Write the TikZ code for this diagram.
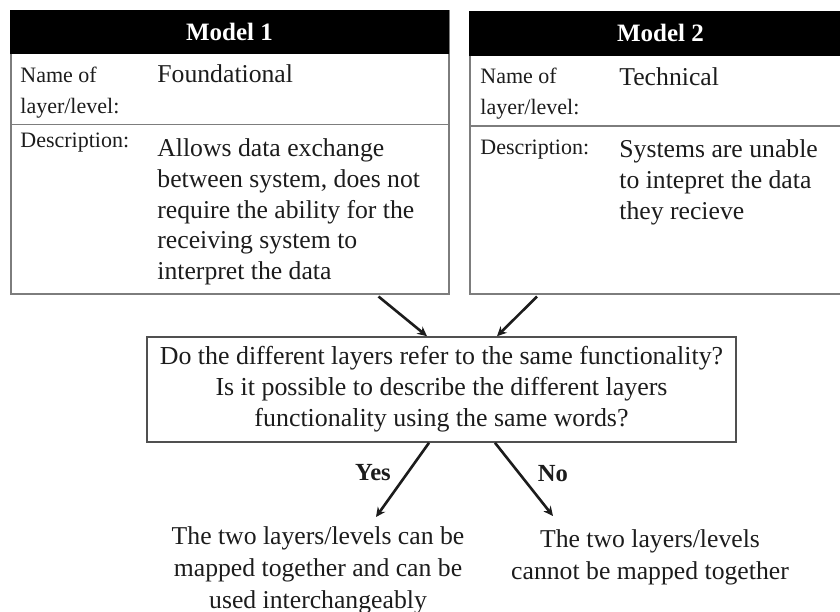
\documentclass[tikz,border=0pt]{standalone}
\usepackage{fontspec}
\setmainfont{Liberation Serif}
\usepackage{tikz}
\usetikzlibrary{arrows.meta,positioning,calc}
\definecolor{mdedge}{RGB}{125,125,125}
\definecolor{qedge}{RGB}{80,80,80}
\definecolor{mdink}{RGB}{28,28,28}
\definecolor{hdfill}{RGB}{0,0,0}
\tikzset{
  mbox/.style={
    draw=mdedge, line width=0.75pt, anchor=north west, inner sep=0pt
  },
  mhead/.style={
    fill=hdfill, draw=hdfill, anchor=north west, inner sep=0pt,
    text=white, font=\bfseries\fontsize{12.5pt}{15pt}\selectfont
  },
  mline/.style={draw=mdedge, line width=0.75pt},
  lbl/.style={
    anchor=north west, inner sep=0pt, align=left, text=mdink,
    font=\fontsize{11pt}{15.5pt}\selectfont
  },
  val/.style={
    anchor=north west, inner sep=0pt, align=left, text=mdink,
    font=\fontsize{12.85pt}{15.35pt}\selectfont
  },
  qbox/.style={
    draw=qedge, line width=0.8pt, align=center, inner sep=0pt, text=mdink,
    minimum width=294.5pt, minimum height=52.5pt,
    font=\fontsize{12.95pt}{15.5pt}\selectfont
  },
  ans/.style={inner sep=0pt, text=mdink, font=\bfseries\fontsize{12.3pt}{14pt}\selectfont},
  outc/.style={
    align=center, inner sep=0pt, text=mdink,
    font=\fontsize{12.85pt}{16pt}\selectfont
  },
  arr/.style={-{Stealth[length=4.8pt,width=4.6pt]}, draw=mdink, line width=1.3pt}
}
\begin{document}
\begin{tikzpicture}[x=0.5pt, y=-0.5pt]
  \useasboundingbox (0,0) rectangle (840,611);
  \clip (0,0) rectangle (840,611);
  % model 1
  \node[mbox, minimum width=219pt, minimum height=141.5pt] (m1) at (10,10) {};
  \node[mhead, minimum width=219pt, minimum height=21.5pt] (h1) at (10,10) {Model 1};
  \draw[mline] (10,124.5) -- (448,124.5);
  \node[lbl] (n1) at (20,67) {Name of\\layer/level:};
  \node[val] (v1) at (157,64.5) {Foundational};
  \node[lbl] (d1) at (20,133) {Description:};
  \node[val] (e1) at (157,138.5) {Allows data exchange\\between system, does not\\require the ability for the\\receiving system to\\interpret the data};
  % model 2
  \node[mbox, minimum width=191pt, minimum height=141pt] (m2) at (469,11) {};
  \node[mhead, minimum width=191pt, minimum height=22pt] (h2) at (469,11) {Model 2};
  \draw[mline] (469,126) -- (851,126);
  \node[lbl] (n2) at (480,68) {Name of\\layer/level:};
  \node[val] (v2) at (619,67.5) {Technical};
  \node[lbl] (d2) at (480,140) {Description:};
  \node[val] (e2) at (619,139.5) {Systems are unable\\to intepret the data\\they recieve};
  % question
  \node[qbox] (q) at (441.5,389.5) {Do the different layers refer to the same functionality?\\Is it possible to describe the different layers\\functionality using the same words?};
  \draw[arr] ($(m1.south east)+(-71,2)$) -- ($(q.north)+(-14.5,0)$);
  \draw[arr] ($(m2.south west)+(68,2)$) -- ($(q.north)+(55.5,0)$);
  % answers
  \coordinate (yesend) at (376,517);
  \coordinate (noend) at (553,516);
  \draw[arr] ($(q.south)+(-12.5,0)$) -- (yesend);
  \draw[arr] ($(q.south)+(53.5,0)$) -- (noend);
  \node[ans] (yes) at (373,473) {Yes};
  \node[ans] (no) at (553,474) {No};
  \node[outc] (t1) at (318,570) {The two layers/levels can be\\mapped together and can be\\used interchangeably};
  \node[outc] (t2) at (650,557) {The two layers/levels\\cannot be mapped together};
\end{tikzpicture}
\end{document}
